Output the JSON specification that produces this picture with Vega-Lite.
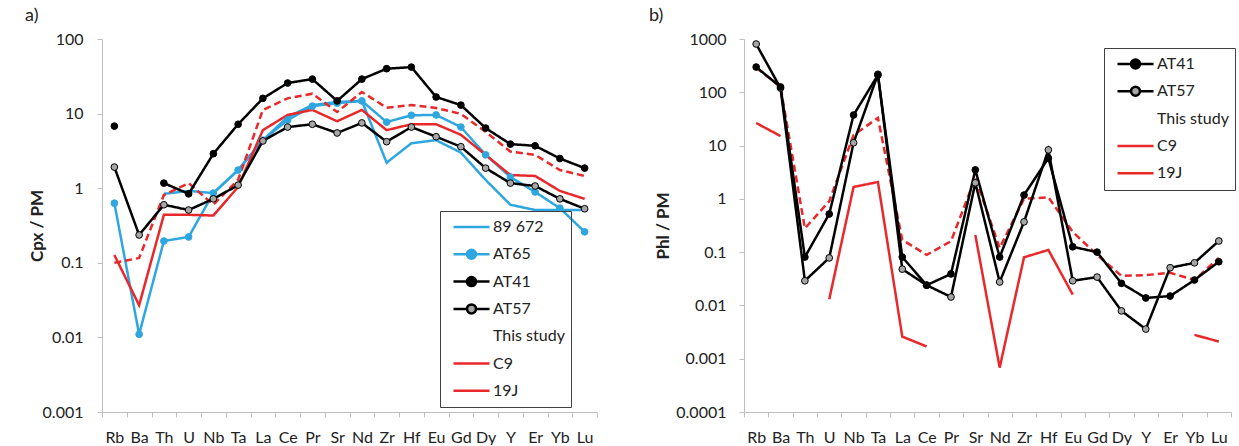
{
  "$schema": "https://vega.github.io/schema/vega-lite/v6.json",
  "padding": {"left": 25, "top": 7, "right": 0, "bottom": 0},
  "spacing": 51,
  "resolve": {"scale": {"shape": "independent", "fill": "independent", "stroke": "independent", "color": "independent"}, "legend": {"shape": "independent", "fill": "independent", "stroke": "independent", "color": "independent"}},
  "datasets": {
    "a": [
      {"s": "89 672", "g": 1, "e": "Th", "v": 0.84}, {"s": "89 672", "g": 1, "e": "U", "v": 0.92}, {"s": "89 672", "g": 1, "e": "Nb", "v": 0.86}, {"s": "89 672", "g": 1, "e": "Ta", "v": 1.75}, {"s": "89 672", "g": 1, "e": "La", "v": 4.4}, {"s": "89 672", "g": 1, "e": "Ce", "v": 9.0}, {"s": "89 672", "g": 1, "e": "Pr", "v": 13}, {"s": "89 672", "g": 1, "e": "Sr", "v": 14.3}, {"s": "89 672", "g": 1, "e": "Nd", "v": 14.8}, {"s": "89 672", "g": 1, "e": "Zr", "v": 2.2}, {"s": "89 672", "g": 1, "e": "Hf", "v": 4.0}, {"s": "89 672", "g": 1, "e": "Eu", "v": 4.4}, {"s": "89 672", "g": 1, "e": "Gd", "v": 3.0}, {"s": "89 672", "g": 1, "e": "Dy", "v": 1.29}, {"s": "89 672", "g": 1, "e": "Y", "v": 0.6}, {"s": "89 672", "g": 1, "e": "Er", "v": 0.51}, {"s": "89 672", "g": 1, "e": "Yb", "v": 0.51}, {"s": "89 672", "g": 1, "e": "Lu", "v": 0.51},
      {"s": "AT65", "g": 1, "e": "Rb", "v": 0.63}, {"s": "AT65", "g": 1, "e": "Ba", "v": 0.011}, {"s": "AT65", "g": 1, "e": "Th", "v": 0.196}, {"s": "AT65", "g": 1, "e": "U", "v": 0.222}, {"s": "AT65", "g": 1, "e": "Nb", "v": 0.86}, {"s": "AT65", "g": 1, "e": "Ta", "v": 1.75}, {"s": "AT65", "g": 1, "e": "La", "v": 4.4}, {"s": "AT65", "g": 1, "e": "Ce", "v": 8.2}, {"s": "AT65", "g": 1, "e": "Pr", "v": 12.6}, {"s": "AT65", "g": 1, "e": "Sr", "v": 13.8}, {"s": "AT65", "g": 1, "e": "Nd", "v": 14.8}, {"s": "AT65", "g": 1, "e": "Zr", "v": 7.7}, {"s": "AT65", "g": 1, "e": "Hf", "v": 9.5}, {"s": "AT65", "g": 1, "e": "Eu", "v": 9.6}, {"s": "AT65", "g": 1, "e": "Gd", "v": 6.6}, {"s": "AT65", "g": 1, "e": "Dy", "v": 2.8}, {"s": "AT65", "g": 1, "e": "Y", "v": 1.41}, {"s": "AT65", "g": 1, "e": "Er", "v": 0.89}, {"s": "AT65", "g": 1, "e": "Yb", "v": 0.54}, {"s": "AT65", "g": 1, "e": "Lu", "v": 0.26},
      {"s": "C9", "g": 1, "e": "Rb", "v": 0.1}, {"s": "C9", "g": 1, "e": "Ba", "v": 0.116}, {"s": "C9", "g": 1, "e": "Th", "v": 0.81}, {"s": "C9", "g": 1, "e": "U", "v": 1.17}, {"s": "C9", "g": 1, "e": "Nb", "v": 0.6}, {"s": "C9", "g": 1, "e": "Ta", "v": 1.3}, {"s": "C9", "g": 1, "e": "La", "v": 11.2}, {"s": "C9", "g": 1, "e": "Ce", "v": 16}, {"s": "C9", "g": 1, "e": "Pr", "v": 18.5}, {"s": "C9", "g": 1, "e": "Sr", "v": 10.5}, {"s": "C9", "g": 1, "e": "Nd", "v": 19.5}, {"s": "C9", "g": 1, "e": "Zr", "v": 12}, {"s": "C9", "g": 1, "e": "Hf", "v": 13}, {"s": "C9", "g": 1, "e": "Eu", "v": 11.9}, {"s": "C9", "g": 1, "e": "Gd", "v": 9.9}, {"s": "C9", "g": 1, "e": "Dy", "v": 5.7}, {"s": "C9", "g": 1, "e": "Y", "v": 3.1}, {"s": "C9", "g": 1, "e": "Er", "v": 2.8}, {"s": "C9", "g": 1, "e": "Yb", "v": 1.75}, {"s": "C9", "g": 1, "e": "Lu", "v": 1.46},
      {"s": "19J", "g": 1, "e": "Rb", "v": 0.127}, {"s": "19J", "g": 1, "e": "Ba", "v": 0.027}, {"s": "19J", "g": 1, "e": "Th", "v": 0.44}, {"s": "19J", "g": 1, "e": "U", "v": 0.44}, {"s": "19J", "g": 1, "e": "Nb", "v": 0.43}, {"s": "19J", "g": 1, "e": "Ta", "v": 1.04}, {"s": "19J", "g": 1, "e": "La", "v": 6.0}, {"s": "19J", "g": 1, "e": "Ce", "v": 9.6}, {"s": "19J", "g": 1, "e": "Pr", "v": 11.2}, {"s": "19J", "g": 1, "e": "Sr", "v": 7.9}, {"s": "19J", "g": 1, "e": "Nd", "v": 11.2}, {"s": "19J", "g": 1, "e": "Zr", "v": 6.0}, {"s": "19J", "g": 1, "e": "Hf", "v": 7.2}, {"s": "19J", "g": 1, "e": "Eu", "v": 7.2}, {"s": "19J", "g": 1, "e": "Gd", "v": 5.2}, {"s": "19J", "g": 1, "e": "Dy", "v": 2.8}, {"s": "19J", "g": 1, "e": "Y", "v": 1.5}, {"s": "19J", "g": 1, "e": "Er", "v": 1.46}, {"s": "19J", "g": 1, "e": "Yb", "v": 0.92}, {"s": "19J", "g": 1, "e": "Lu", "v": 0.72},
      {"s": "AT57", "g": 1, "e": "Rb", "v": 1.92}, {"s": "AT57", "g": 1, "e": "Ba", "v": 0.236}, {"s": "AT57", "g": 1, "e": "Th", "v": 0.6}, {"s": "AT57", "g": 1, "e": "U", "v": 0.51}, {"s": "AT57", "g": 1, "e": "Nb", "v": 0.72}, {"s": "AT57", "g": 1, "e": "Ta", "v": 1.1}, {"s": "AT57", "g": 1, "e": "La", "v": 4.3}, {"s": "AT57", "g": 1, "e": "Ce", "v": 6.6}, {"s": "AT57", "g": 1, "e": "Pr", "v": 7.2}, {"s": "AT57", "g": 1, "e": "Sr", "v": 5.5}, {"s": "AT57", "g": 1, "e": "Nd", "v": 7.5}, {"s": "AT57", "g": 1, "e": "Zr", "v": 4.2}, {"s": "AT57", "g": 1, "e": "Hf", "v": 6.6}, {"s": "AT57", "g": 1, "e": "Eu", "v": 4.9}, {"s": "AT57", "g": 1, "e": "Gd", "v": 3.6}, {"s": "AT57", "g": 1, "e": "Dy", "v": 1.86}, {"s": "AT57", "g": 1, "e": "Y", "v": 1.17}, {"s": "AT57", "g": 1, "e": "Er", "v": 1.07}, {"s": "AT57", "g": 1, "e": "Yb", "v": 0.72}, {"s": "AT57", "g": 1, "e": "Lu", "v": 0.53},
      {"s": "AT41", "g": 1, "e": "Rb", "v": 6.8}, {"s": "AT41", "g": 2, "e": "Th", "v": 1.17}, {"s": "AT41", "g": 2, "e": "U", "v": 0.84}, {"s": "AT41", "g": 2, "e": "Nb", "v": 2.9}, {"s": "AT41", "g": 2, "e": "Ta", "v": 7.2}, {"s": "AT41", "g": 2, "e": "La", "v": 16}, {"s": "AT41", "g": 2, "e": "Ce", "v": 25.7}, {"s": "AT41", "g": 2, "e": "Pr", "v": 29}, {"s": "AT41", "g": 2, "e": "Sr", "v": 14.8}, {"s": "AT41", "g": 2, "e": "Nd", "v": 29}, {"s": "AT41", "g": 2, "e": "Zr", "v": 40}, {"s": "AT41", "g": 2, "e": "Hf", "v": 42}, {"s": "AT41", "g": 2, "e": "Eu", "v": 16.7}, {"s": "AT41", "g": 2, "e": "Gd", "v": 13}, {"s": "AT41", "g": 2, "e": "Dy", "v": 6.4}, {"s": "AT41", "g": 2, "e": "Y", "v": 3.9}, {"s": "AT41", "g": 2, "e": "Er", "v": 3.7}, {"s": "AT41", "g": 2, "e": "Yb", "v": 2.5}, {"s": "AT41", "g": 2, "e": "Lu", "v": 1.86}
    ],
    "b": [
      {"s": "C9", "g": 1, "e": "Rb", "v": 290}, {"s": "C9", "g": 1, "e": "Ba", "v": 126}, {"s": "C9", "g": 1, "e": "Th", "v": 0.28}, {"s": "C9", "g": 1, "e": "U", "v": 0.9}, {"s": "C9", "g": 1, "e": "Nb", "v": 15.8}, {"s": "C9", "g": 1, "e": "Ta", "v": 33}, {"s": "C9", "g": 1, "e": "La", "v": 0.17}, {"s": "C9", "g": 1, "e": "Ce", "v": 0.089}, {"s": "C9", "g": 1, "e": "Pr", "v": 0.16}, {"s": "C9", "g": 1, "e": "Sr", "v": 2.5}, {"s": "C9", "g": 1, "e": "Nd", "v": 0.12}, {"s": "C9", "g": 1, "e": "Zr", "v": 1.0}, {"s": "C9", "g": 1, "e": "Hf", "v": 1.07}, {"s": "C9", "g": 1, "e": "Eu", "v": 0.24}, {"s": "C9", "g": 1, "e": "Gd", "v": 0.089}, {"s": "C9", "g": 1, "e": "Dy", "v": 0.036}, {"s": "C9", "g": 1, "e": "Y", "v": 0.037}, {"s": "C9", "g": 1, "e": "Er", "v": 0.041}, {"s": "C9", "g": 1, "e": "Yb", "v": 0.03}, {"s": "C9", "g": 1, "e": "Lu", "v": 0.078},
      {"s": "19J", "g": 1, "e": "Rb", "v": 26.5}, {"s": "19J", "g": 1, "e": "Ba", "v": 15.1}, {"s": "19J", "g": 2, "e": "U", "v": 0.013}, {"s": "19J", "g": 2, "e": "Nb", "v": 1.67}, {"s": "19J", "g": 2, "e": "Ta", "v": 2.07}, {"s": "19J", "g": 2, "e": "La", "v": 0.0026}, {"s": "19J", "g": 2, "e": "Ce", "v": 0.0017}, {"s": "19J", "g": 3, "e": "Sr", "v": 0.21}, {"s": "19J", "g": 3, "e": "Nd", "v": 0.00068}, {"s": "19J", "g": 3, "e": "Zr", "v": 0.08}, {"s": "19J", "g": 3, "e": "Hf", "v": 0.11}, {"s": "19J", "g": 3, "e": "Eu", "v": 0.016}, {"s": "19J", "g": 4, "e": "Yb", "v": 0.0028}, {"s": "19J", "g": 4, "e": "Lu", "v": 0.0021},
      {"s": "AT57", "g": 1, "e": "Rb", "v": 805}, {"s": "AT57", "g": 1, "e": "Ba", "v": 120}, {"s": "AT57", "g": 1, "e": "Th", "v": 0.029}, {"s": "AT57", "g": 1, "e": "U", "v": 0.078}, {"s": "AT57", "g": 1, "e": "Nb", "v": 11.3}, {"s": "AT57", "g": 1, "e": "Ta", "v": 218}, {"s": "AT57", "g": 1, "e": "La", "v": 0.048}, {"s": "AT57", "g": 1, "e": "Ce", "v": 0.024}, {"s": "AT57", "g": 1, "e": "Pr", "v": 0.0144}, {"s": "AT57", "g": 1, "e": "Sr", "v": 2.0}, {"s": "AT57", "g": 1, "e": "Nd", "v": 0.0275}, {"s": "AT57", "g": 1, "e": "Zr", "v": 0.37}, {"s": "AT57", "g": 1, "e": "Hf", "v": 8.3}, {"s": "AT57", "g": 1, "e": "Eu", "v": 0.029}, {"s": "AT57", "g": 1, "e": "Gd", "v": 0.034}, {"s": "AT57", "g": 1, "e": "Dy", "v": 0.0079}, {"s": "AT57", "g": 1, "e": "Y", "v": 0.0036}, {"s": "AT57", "g": 1, "e": "Er", "v": 0.051}, {"s": "AT57", "g": 1, "e": "Yb", "v": 0.063}, {"s": "AT57", "g": 1, "e": "Lu", "v": 0.162},
      {"s": "AT41", "g": 1, "e": "Rb", "v": 298}, {"s": "AT41", "g": 1, "e": "Ba", "v": 126}, {"s": "AT41", "g": 1, "e": "Th", "v": 0.081}, {"s": "AT41", "g": 1, "e": "U", "v": 0.52}, {"s": "AT41", "g": 1, "e": "Nb", "v": 37.5}, {"s": "AT41", "g": 1, "e": "Ta", "v": 211}, {"s": "AT41", "g": 1, "e": "La", "v": 0.081}, {"s": "AT41", "g": 1, "e": "Ce", "v": 0.024}, {"s": "AT41", "g": 1, "e": "Pr", "v": 0.039}, {"s": "AT41", "g": 1, "e": "Sr", "v": 3.5}, {"s": "AT41", "g": 1, "e": "Nd", "v": 0.081}, {"s": "AT41", "g": 1, "e": "Zr", "v": 1.18}, {"s": "AT41", "g": 1, "e": "Hf", "v": 5.8}, {"s": "AT41", "g": 1, "e": "Eu", "v": 0.126}, {"s": "AT41", "g": 1, "e": "Gd", "v": 0.1}, {"s": "AT41", "g": 1, "e": "Dy", "v": 0.026}, {"s": "AT41", "g": 1, "e": "Y", "v": 0.0138}, {"s": "AT41", "g": 1, "e": "Er", "v": 0.015}, {"s": "AT41", "g": 1, "e": "Yb", "v": 0.03}, {"s": "AT41", "g": 1, "e": "Lu", "v": 0.066}
    ]
  },
  "config": {
    "view": {"stroke": null},
    "font": "Lato",
    "axis": {"domainColor": "#bfbfbf", "tickColor": "#bfbfbf", "labelColor": "#222222", "labelFontSize": 16, "labelFont": "Lato", "grid": false, "domainWidth": 1, "tickWidth": 1, "tickSize": 5, "titleColor": "#222222", "titleFont": "Lato"},
    "title": {"fontSize": 18, "fontWeight": "normal", "font": "Lato", "color": "#222222", "anchor": "start", "frame": "group", "offset": 6},
    "legend": {"labelFont": "Lato", "labelFontSize": 16, "labelColor": "#222222", "strokeColor": "#404040", "padding": 6, "symbolOffset": 6, "symbolSize": 1300, "symbolStrokeWidth": 2.5, "symbolOpacity": 1, "labelOffset": 2, "clipHeight": 20, "rowPadding": 7.3}
  },
  "hconcat": [
    {
      "width": 495,
      "height": 373,
      "title": {"text": "a)", "dx": -77},
      "data": {"name": "a"},
      "encoding": {
        "x": {"field": "e", "type": "nominal", "sort": ["Rb","Ba","Th","U","Nb","Ta","La","Ce","Pr","Sr","Nd","Zr","Hf","Eu","Gd","Dy","Y","Er","Yb","Lu"], "scale": {"type": "band", "paddingInner": 0, "paddingOuter": 0}, "axis": {"title": null, "labelAngle": 0, "tickBand": "extent", "labelPadding": 12}},
        "y": {"field": "v", "type": "quantitative", "scale": {"type": "log", "domain": [0.001, 100], "nice": false}, "axis": {"title": "Cpx / PM", "values": [0.001, 0.01, 0.1, 1, 10, 100], "format": "~g", "titleFontSize": 17, "titleFontWeight": "bold", "titleX": -56, "labelPadding": 14}}
      },
      "layer": [
        {
          "mark": {"type": "point", "opacity": 0, "filled": true},
          "encoding": {
            "shape": {"field": "s", "type": "nominal", "scale": {"domain": ["89 672","AT65","AT41","AT57","This study","C9","19J"], "range": ["M-1,0H1", "M-1,0H-0.25M0.25,0H1M0.25,0A0.25,0.25,0,1,1,-0.25,0A0.25,0.25,0,1,1,0.25,0Z", "M-1,0H-0.25M0.25,0H1M0.25,0A0.25,0.25,0,1,1,-0.25,0A0.25,0.25,0,1,1,0.25,0Z", "M-1,0H-0.25M0.25,0H1M0.25,0A0.25,0.25,0,1,1,-0.25,0A0.25,0.25,0,1,1,0.25,0Z", "M-1,0H1", "M-1,0H1", "M-1,0H1"]}, "legend": {"title": null, "orient": "none", "legendX": 338, "legendY": 172, "encode": {"labels": {"dx": {"condition": {"test": "datum.value === 'This study'", "value": -33}, "value": 0}}}}},
            "fill": {"field": "s", "type": "nominal", "scale": {"domain": ["89 672","AT65","AT41","AT57","This study","C9","19J"], "range": ["transparent","#2ea7e0","#000000","#a6a6a6","transparent","transparent","transparent"]}, "legend": {"title": null, "orient": "none", "legendX": 338, "legendY": 172, "encode": {"labels": {"dx": {"condition": {"test": "datum.value === 'This study'", "value": -33}, "value": 0}}}}},
            "stroke": {"field": "s", "type": "nominal", "scale": {"domain": ["89 672","AT65","AT41","AT57","This study","C9","19J"], "range": ["#2ea7e0","#2ea7e0","#000000","#000000","transparent","#e8282b","#e8282b"]}, "legend": {"title": null, "orient": "none", "legendX": 338, "legendY": 172, "encode": {"labels": {"dx": {"condition": {"test": "datum.value === 'This study'", "value": -33}, "value": 0}}}}}
          }
        },
        {
          "mark": {"type": "line", "strokeWidth": 2.5},
          "encoding": {
            "detail": {"field": "g", "type": "nominal"},
            "color": {"field": "s", "type": "nominal", "scale": {"domain": ["89 672","AT65","AT41","AT57","C9","19J"], "range": ["#2ea7e0","#2ea7e0","#000000","#000000","#e8282b","#e8282b"]}, "legend": null},
            "strokeDash": {"condition": {"test": "datum.s === 'C9'", "value": [7, 4]}, "value": [1, 0]}
          }
        },
        {
          "transform": [{"filter": {"field": "s", "oneOf": ["AT65", "AT41", "AT57"]}}],
          "mark": {"type": "point", "filled": true, "size": 45, "strokeWidth": 1, "opacity": 1},
          "encoding": {
            "fill": {"condition": [{"test": "datum.s === 'AT65'", "value": "#2ea7e0"}, {"test": "datum.s === 'AT41'", "value": "#000000"}], "value": "#a6a6a6"},
            "stroke": {"condition": {"test": "datum.s === 'AT65'", "value": "#2ea7e0"}, "value": "#000000"}
          }
        }
      ]
    },
    {
      "width": 487,
      "height": 373,
      "title": {"text": "b)", "dx": -95},
      "data": {"name": "b"},
      "encoding": {
        "x": {"field": "e", "type": "nominal", "sort": ["Rb","Ba","Th","U","Nb","Ta","La","Ce","Pr","Sr","Nd","Zr","Hf","Eu","Gd","Dy","Y","Er","Yb","Lu"], "scale": {"type": "band", "paddingInner": 0, "paddingOuter": 0}, "axis": {"title": null, "labelAngle": 0, "tickBand": "extent", "labelPadding": 12}},
        "y": {"field": "v", "type": "quantitative", "scale": {"type": "log", "domain": [0.0001, 1000], "nice": false}, "axis": {"title": "Phl / PM", "values": [0.0001, 0.001, 0.01, 0.1, 1, 10, 100, 1000], "format": "~g", "titleFontSize": 17, "titleFontWeight": "bold", "titlePadding": 3, "labelPadding": 13}}
      },
      "layer": [
        {
          "mark": {"type": "point", "opacity": 0, "filled": true},
          "encoding": {
            "shape": {"field": "s", "type": "nominal", "scale": {"domain": ["AT41","AT57","This study","C9","19J"], "range": ["M-1,0H-0.25M0.25,0H1M0.25,0A0.25,0.25,0,1,1,-0.25,0A0.25,0.25,0,1,1,0.25,0Z", "M-1,0H-0.25M0.25,0H1M0.25,0A0.25,0.25,0,1,1,-0.25,0A0.25,0.25,0,1,1,0.25,0Z", "M-1,0H1", "M-1,0H1", "M-1,0H1"]}, "legend": {"title": null, "orient": "none", "legendX": 360, "legendY": 9, "encode": {"labels": {"dx": {"condition": {"test": "datum.value === 'This study'", "value": -33}, "value": 0}}}}},
            "fill": {"field": "s", "type": "nominal", "scale": {"domain": ["AT41","AT57","This study","C9","19J"], "range": ["#000000","#a6a6a6","transparent","transparent","transparent"]}, "legend": {"title": null, "orient": "none", "legendX": 360, "legendY": 9, "encode": {"labels": {"dx": {"condition": {"test": "datum.value === 'This study'", "value": -33}, "value": 0}}}}},
            "stroke": {"field": "s", "type": "nominal", "scale": {"domain": ["AT41","AT57","This study","C9","19J"], "range": ["#000000","#000000","transparent","#e8282b","#e8282b"]}, "legend": {"title": null, "orient": "none", "legendX": 360, "legendY": 9, "encode": {"labels": {"dx": {"condition": {"test": "datum.value === 'This study'", "value": -33}, "value": 0}}}}}
          }
        },
        {
          "mark": {"type": "line", "strokeWidth": 2.5},
          "encoding": {
            "detail": {"field": "g", "type": "nominal"},
            "color": {"field": "s", "type": "nominal", "scale": {"domain": ["AT41","AT57","C9","19J"], "range": ["#000000","#000000","#e8282b","#e8282b"]}, "legend": null},
            "strokeDash": {"condition": {"test": "datum.s === 'C9'", "value": [7, 4]}, "value": [1, 0]}
          }
        },
        {
          "transform": [{"filter": {"field": "s", "oneOf": ["AT41", "AT57"]}}],
          "mark": {"type": "point", "filled": true, "size": 45, "strokeWidth": 1, "opacity": 1},
          "encoding": {
            "fill": {"condition": {"test": "datum.s === 'AT41'", "value": "#000000"}, "value": "#a6a6a6"},
            "stroke": {"value": "#000000"}
          }
        }
      ]
    }
  ]
}
